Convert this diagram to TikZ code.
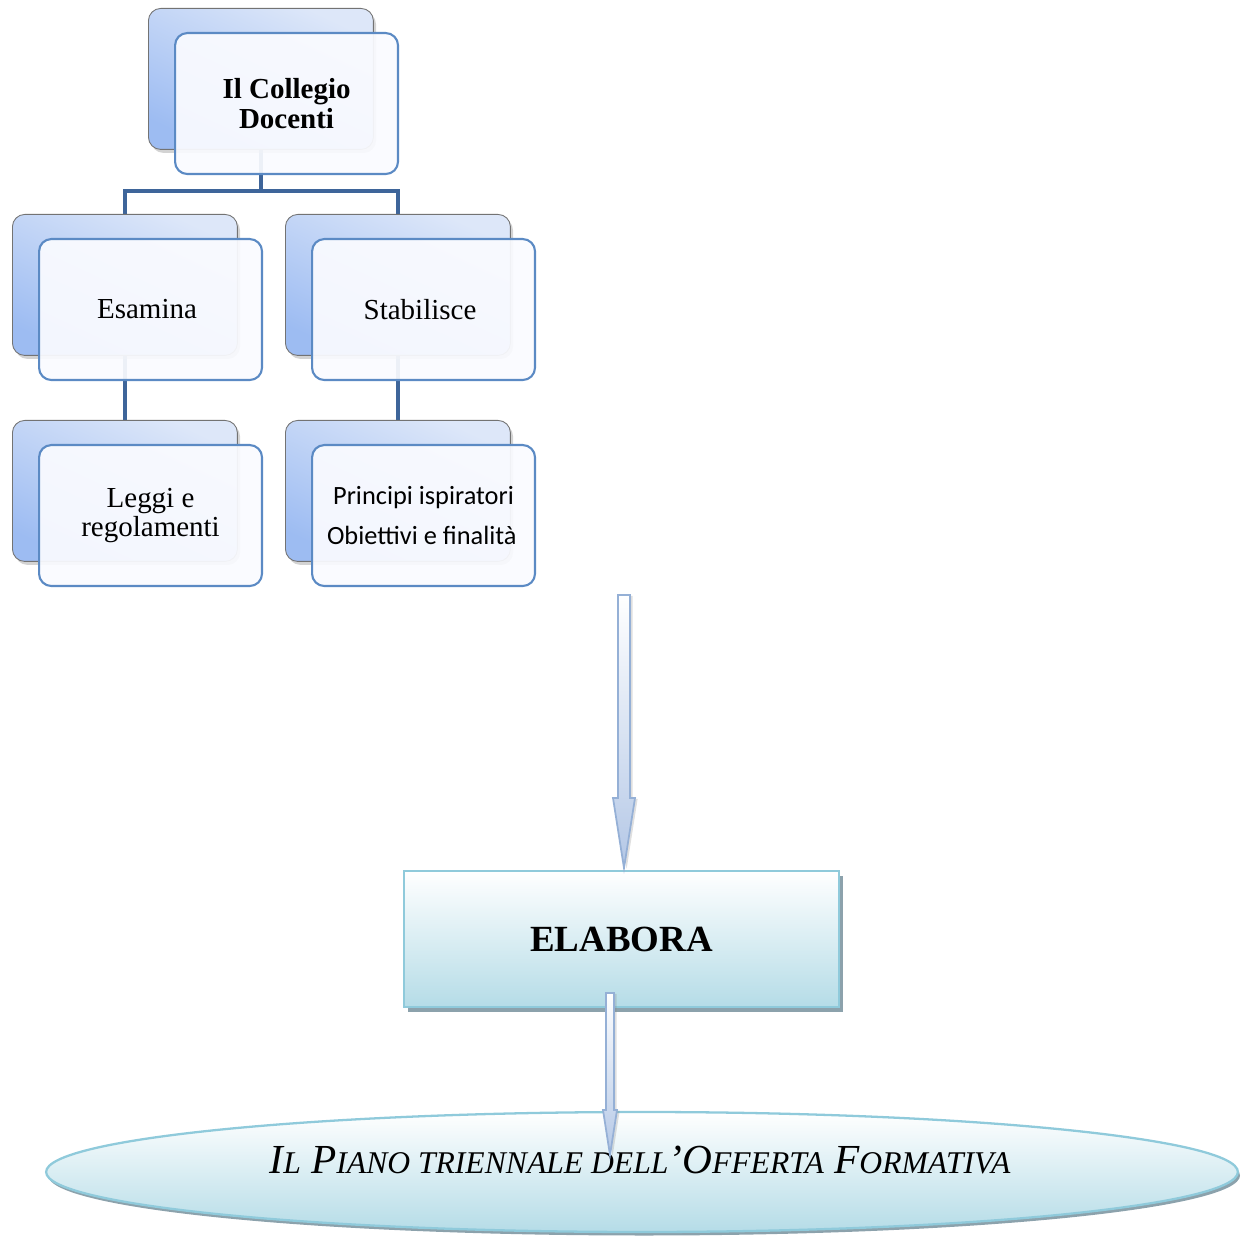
\documentclass[tikz,border=0pt]{standalone}
\usepackage{fontspec}
\setmainfont{Liberation Serif}
\newfontfamily\calibfont{Carlito}
\usetikzlibrary{shapes.geometric,shadows,calc}

\definecolor{backLight}{HTML}{DDE7F9}
\definecolor{backDark}{HTML}{9DBCF2}
\definecolor{frontLine}{HTML}{5B8AC4}
\definecolor{frontFill}{HTML}{FAFBFF}
\definecolor{linkBlue}{HTML}{3E659A}
\definecolor{aquaLine}{HTML}{8FCADB}
\definecolor{aquaFill}{HTML}{B5DCE7}
\definecolor{aquaShadow}{HTML}{8CA2AC}
\definecolor{arrowLine}{HTML}{95B0D6}
\definecolor{arrowFill}{HTML}{B3C7E6}

\pgfdeclarelayer{background}
\pgfsetlayers{background,main}

% small capitals, set by hand
\newcommand\smcap[1]{{\fontsize{18}{20}\selectfont #1}}

% vertical block arrow: #2 start, #3 tip, #4 shaft half width, #5 head half width, #6 head length
\newcommand\bkarrow[6][]{%
  \draw[#1] ($(#2)+(-#4,0)$) -- ($(#3)+(-#4,-#6)$) -- ($(#3)+(-#5,-#6)$) -- (#3)
    -- ($(#3)+(#5,-#6)$) -- ($(#3)+(#4,-#6)$) -- ($(#2)+(#4,0)$) -- cycle;}

\begin{document}
\begin{tikzpicture}[x=0.02cm,y=-0.02cm,
  backbox/.style={rectangle, rounded corners=7pt, anchor=north west,
    minimum width=4.5cm, minimum height=2.82cm,
    draw=black!55, line width=0.5pt,
    top color=backLight, bottom color=backDark, shading angle=-25,
    drop shadow={shadow xshift=1.5pt, shadow yshift=-2pt, opacity=0.35}},
  frontbox/.style={rectangle, rounded corners=7pt, anchor=north west,
    minimum width=4.46cm, minimum height=2.82cm,
    draw=frontLine, line width=1.2pt, fill=frontFill, fill opacity=0.93,
    text opacity=1, align=center, font=\fontsize{16.5}{17}\selectfont},
  link/.style={draw=linkBlue, line width=2pt},
  elabbox/.style={rectangle, anchor=north west,
    minimum width=8.7cm, minimum height=2.72cm,
    draw=aquaLine, line width=1.2pt, top color=white, bottom color=aquaFill,
    drop shadow={shadow xshift=2.3pt, shadow yshift=-2.8pt, fill=aquaShadow, opacity=1},
    font=\bfseries\fontsize{21}{25}\selectfont},
  plan/.style={ellipse, inner sep=0pt, minimum width=23.84cm, minimum height=2.4cm,
    draw=aquaLine, line width=1.3pt, top color=white, bottom color=aquaFill,
    drop shadow={shadow xshift=1.2pt, shadow yshift=-2pt, fill=aquaShadow, opacity=1}},
  blockarr/.style={draw=arrowLine, line width=1pt, line join=miter,
    top color=white, bottom color=arrowFill,
    drop shadow={shadow xshift=1.5pt, shadow yshift=-0.5pt, opacity=0.25}}
]
\useasboundingbox (0,0) rectangle (1248,1236);

% organisation chart
\node[backbox]  (cdB) at (148,8) {};
\node[frontbox] (cdF) at (174,32) {\textbf{Il Collegio}\\\textbf{Docenti}};
\node[backbox]  (esB) at (12,214) {};
\node[frontbox] (esF) at (38,238) {Esamina\hspace*{4pt}};
\node[backbox]  (stB) at (285,214) {};
\node[frontbox] (stF) at (311,238) {Stabilisce\hspace*{4pt}};
\node[backbox]  (lgB) at (12,420) {};
\node[frontbox] (lgF) at (38,444) {Leggi e\\regolamenti};
\node[backbox]  (prB) at (285,420) {};
\node[frontbox, font=\calibfont\fontsize{15}{23.3}\selectfont] (prF) at (311,444)
  {Principi ispiratori\\Obiettivi e finalità\hspace*{2pt}};

\begin{pgfonlayer}{background}
  \coordinate (junc) at ($(cdB.south)+(0,41)$);
  \draw[link] (cdB.south) -- (junc) -| (esB.north);
  \draw[link] (junc) -| (stB.north);
  \draw[link] (esB.south) -- (lgB.north);
  \draw[link] (stB.south) -- (prB.north);
\end{pgfonlayer}

% result boxes
\node[elabbox] (elab) at (403,870) {ELABORA};
\node[plan] (ptof) at (642,1172) {};
\node[font=\itshape\fontsize{23.5}{26}\selectfont] (ptofLabel) at ($(ptof.center)+(-2,-12)$)
  {I\smcap{L} P\smcap{IANO TRIENNALE DELL}'O\smcap{FFERTA} F\smcap{ORMATIVA}};

% block arrows
\coordinate (a1s) at (624,595);
\coordinate (a1e) at (624,868);
\bkarrow[blockarr]{a1s}{a1e}{6}{11}{70}
\coordinate (a2s) at (610,993);
\coordinate (a2e) at (610,1155);
\bkarrow[blockarr]{a2s}{a2e}{4}{7}{45}
\end{tikzpicture}
\end{document}
